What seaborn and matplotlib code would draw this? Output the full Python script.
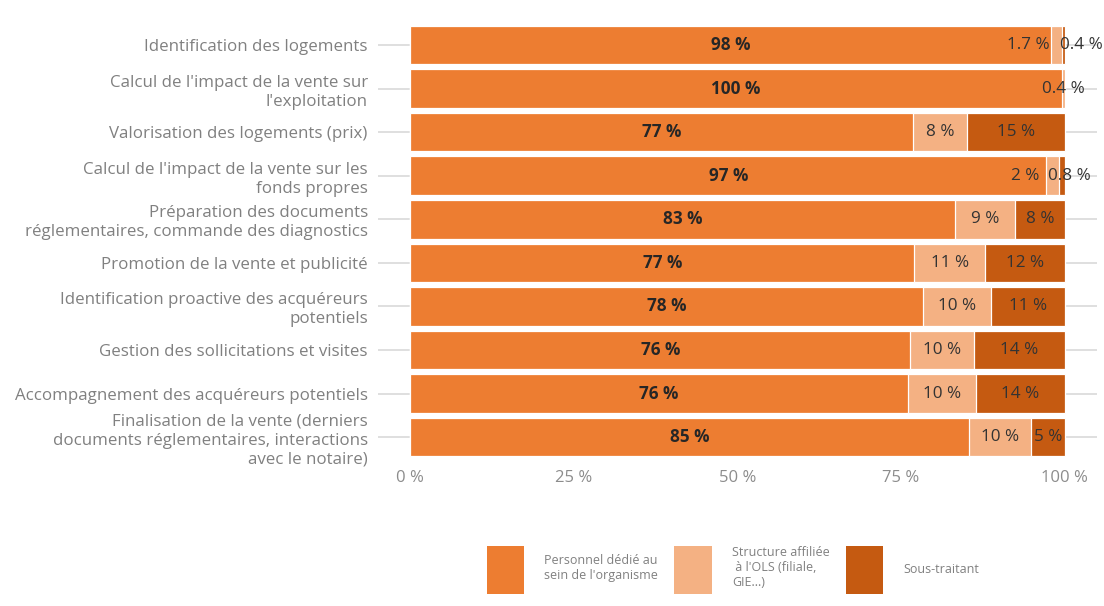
import matplotlib
matplotlib.use("Agg")
import matplotlib.pyplot as plt
import seaborn as sns
import pandas as pd
import numpy as np
from matplotlib.patches import Patch

categories = [
    "Identification des logements",
    "Calcul de l'impact de la vente sur\nl'exploitation",
    "Valorisation des logements (prix)",
    "Calcul de l'impact de la vente sur les\nfonds propres",
    "Préparation des documents\nréglementaires, commande des diagnostics",
    "Promotion de la vente et publicité",
    "Identification proactive des acquéreurs\npotentiels",
    "Gestion des sollicitations et visites",
    "Accompagnement des acquéreurs potentiels",
    "Finalisation de la vente (derniers\ndocuments réglementaires, interactions\navec le notaire)",
]
personnel = [97.9, 99.6, 76.9, 97.2, 83.3, 77.0, 78.4, 76.4, 76.0, 85.4]
structure = [1.7, 0.4, 8.2, 2.0, 9.1, 10.9, 10.3, 9.8, 10.4, 9.5]
sous_traitant = [0.4, 0.0, 14.9, 0.8, 7.6, 12.1, 11.3, 13.8, 13.6, 5.1]
series_names = ["Personnel dédié au\nsein de l'organisme",
                "Structure affiliée\n à l'OLS (filiale,\nGIE...)",
                "Sous-traitant"]
colors = ["#ED7D31", "#F4B183", "#C55A11"]
xticks = [0, 25, 50, 75, 100]
xtick_labels = ["0 %", "25 %", "50 %", "75 %", "100 %"]

sns.set_theme(style="white")
plt.rcParams["font.family"] = ["Open Sans", "DejaVu Sans"]

df = pd.DataFrame({"cat": categories, "s1": personnel, "s2": structure, "s3": sous_traitant})
df["c1"] = df["s1"]
df["c2"] = df["s1"] + df["s2"]
df["c3"] = df["c2"] + df["s3"]

fig = plt.figure(figsize=(11.04, 6.06), dpi=100)
ax = fig.add_axes([0.342, 0.2426, 0.652, 0.719])

# horizontal gridlines at category centers
for i in range(len(categories)):
    ax.axhline(i, color="#D9D9D9", lw=1.2, zorder=0)

for col, c in zip(["c3", "c2", "c1"], [colors[2], colors[1], colors[0]]):
    sns.barplot(data=df, y="cat", x=col, order=categories, orient="h", color=c,
                width=0.885, edgecolor="white", linewidth=0.9, ax=ax,
                saturation=1, zorder=2)

ax.set_xlim(-5, 105)
ax.set_ylim(len(categories) - 0.5, -0.5)
ax.set_xticks(xticks)
ax.set_xticklabels(xtick_labels, fontsize=12, color="#8C8C8C")
ax.set_yticks(range(len(categories)))
ax.set_yticklabels(categories, fontsize=12.2, color="#808080", linespacing=1.25)
ax.tick_params(axis="y", length=0, pad=7)
ax.tick_params(axis="x", length=0, pad=8)
ax.set_xlabel("")
ax.set_ylabel("")
for s in ax.spines.values():
    s.set_visible(False)

def fmt(v):
    if v < 2:
        return f"{v:.1f} %"
    return f"{v:.0f} %"

# label offsets (in points) for crowded small segments
dx = {(0, 1): -20, (0, 2): 13, (3, 1): -20, (3, 2): 5}
for i in range(len(categories)):
    vals = [personnel[i], structure[i], sous_traitant[i]]
    left = 0
    for j, v in enumerate(vals):
        if v > 0:
            xc = left + v / 2
            ax.annotate(fmt(v), (xc, i), xytext=(dx.get((i, j), 0), 0),
                        textcoords="offset points", ha="center", va="center",
                        fontsize=12.3, color="#262626" if j == 0 else "#333333",
                        fontweight="bold" if j == 0 else "normal", zorder=5)
        left += v

handles = [Patch(facecolor=c, edgecolor="none") for c in colors]
fig.legend(handles, series_names, loc="center", bbox_to_anchor=(0.664, 0.06),
           ncol=3, frameon=False, fontsize=9, labelcolor="#808080",
           handlelength=3.0, handleheight=5.5, handletextpad=1.6, columnspacing=1.3)

fig.savefig("out.png", dpi=100)
